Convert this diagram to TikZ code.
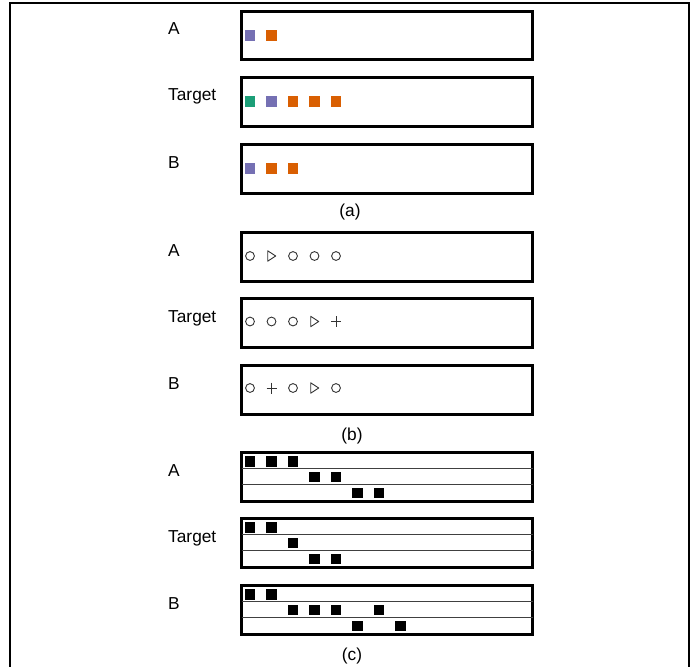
\documentclass[tikz,border=0pt]{standalone}
\usepackage{fontspec}
\setmainfont{Liberation Sans}
\usetikzlibrary{calc}
\definecolor{dkpurple}{HTML}{7570B3}
\definecolor{dkorange}{HTML}{D95F02}
\definecolor{dkgreen}{HTML}{1B9E77}
\definecolor{markgray}{HTML}{333333}
\newcommand{\sqcell}[3]{\fill[#1] ({250+21.5*#2-5.25},{#3-5.25}) rectangle ++(10.5,10.5);}
\tikzset{
  markline/.style={draw=markgray, line width=0.9pt},
  ring/.pic={\draw[markline] (0,0) circle (4.4);},
  tri/.pic={\draw[markline, line join=round] (-3.8,-5.2) -- (4.2,0) -- (-3.8,5.2) -- cycle;},
  cross/.pic={\draw[markline] (-5,0) -- (5,0) (0,-5.5) -- (0,5.5);}
}

\begin{document}
\begin{tikzpicture}[
  x=1pt, y=-1pt,
  every node/.style={font=\fontsize{17.3}{20}\selectfont},
  panel/.style={draw, line width=3pt, anchor=north west, outer sep=0pt,
    inner sep=0pt, minimum width=291pt, minimum height=48.5pt},
  rowlabel/.style={anchor=base west, inner sep=0pt},
  caption/.style={inner sep=0pt},
  rowline/.style={draw=black!75, line width=1pt}
]
\useasboundingbox (0,0) rectangle (695,666);
% outer frame
\draw[line width=2.5pt] (10,667) -- (10,3) -- (689,3) -- (689,667);

% boxes and labels
\foreach \p/\y in {a/10, b/231, c/451} {
  \node[panel] (\p A) at (241.5,\y+1.5) {};
  \node[panel] (\p T) at (241.5,\y+67.5) {};
  \node[panel] (\p B) at (241.5,\y+134.5) {};
  \node[rowlabel] (l\p A) at (168,\y+25) {A};
  \node[rowlabel] (l\p T) at (168,\y+91) {Target};
  \node[rowlabel] (l\p B) at (168,\y+158) {B};
}
\node[caption] (capa) at (350,212) {(a)};
\node[caption] (capb) at (352,436) {(b)};
\node[caption] (capc) at (352,656) {(c)};

% (a) coloured squares
\sqcell{dkpurple}{0}{35.5}
\sqcell{dkorange}{1}{35.5}
\sqcell{dkgreen}{0}{101.5}
\sqcell{dkpurple}{1}{101.5}
\foreach \k in {2,3,4} {\sqcell{dkorange}{\k}{101.5}}
\sqcell{dkpurple}{0}{168.5}
\foreach \k in {1,2} {\sqcell{dkorange}{\k}{168.5}}

% (b) markers
\foreach \k in {0,2,3,4} \pic at ({250+21.5*\k},256) {ring};
\pic at ({250+21.5*1},256) {tri};
\foreach \k in {0,1,2} \pic at ({250+21.5*\k},321.5) {ring};
\pic at ({250+21.5*3},321.5) {tri};
\pic at ({250+21.5*4},321.5) {cross};
\foreach \k in {0,2,4} \pic at ({250+21.5*\k},388) {ring};
\pic at ({250+21.5*1},388) {cross};
\pic at ({250+21.5*3},388) {tri};

% (c) rows
\foreach \n in {cA, cT, cB} {
  \draw[rowline] ($(\n.north west)+(0,15.5)$) -- ($(\n.north east)+(0,15.5)$);
  \draw[rowline] ($(\n.north west)+(0,31.5)$) -- ($(\n.north east)+(0,31.5)$);
}
\foreach \k in {0,1,2} {\sqcell{black}{\k}{461.5}}
\foreach \k in {3,4} {\sqcell{black}{\k}{477}}
\foreach \k in {5,6} {\sqcell{black}{\k}{493}}
\foreach \k in {0,1} {\sqcell{black}{\k}{527.5}}
\sqcell{black}{2}{543}
\foreach \k in {3,4} {\sqcell{black}{\k}{559}}
\foreach \k in {0,1} {\sqcell{black}{\k}{594.5}}
\foreach \k in {2,3,4,6} {\sqcell{black}{\k}{610}}
\foreach \k in {5,7} {\sqcell{black}{\k}{626}}
\end{tikzpicture}
\end{document}
